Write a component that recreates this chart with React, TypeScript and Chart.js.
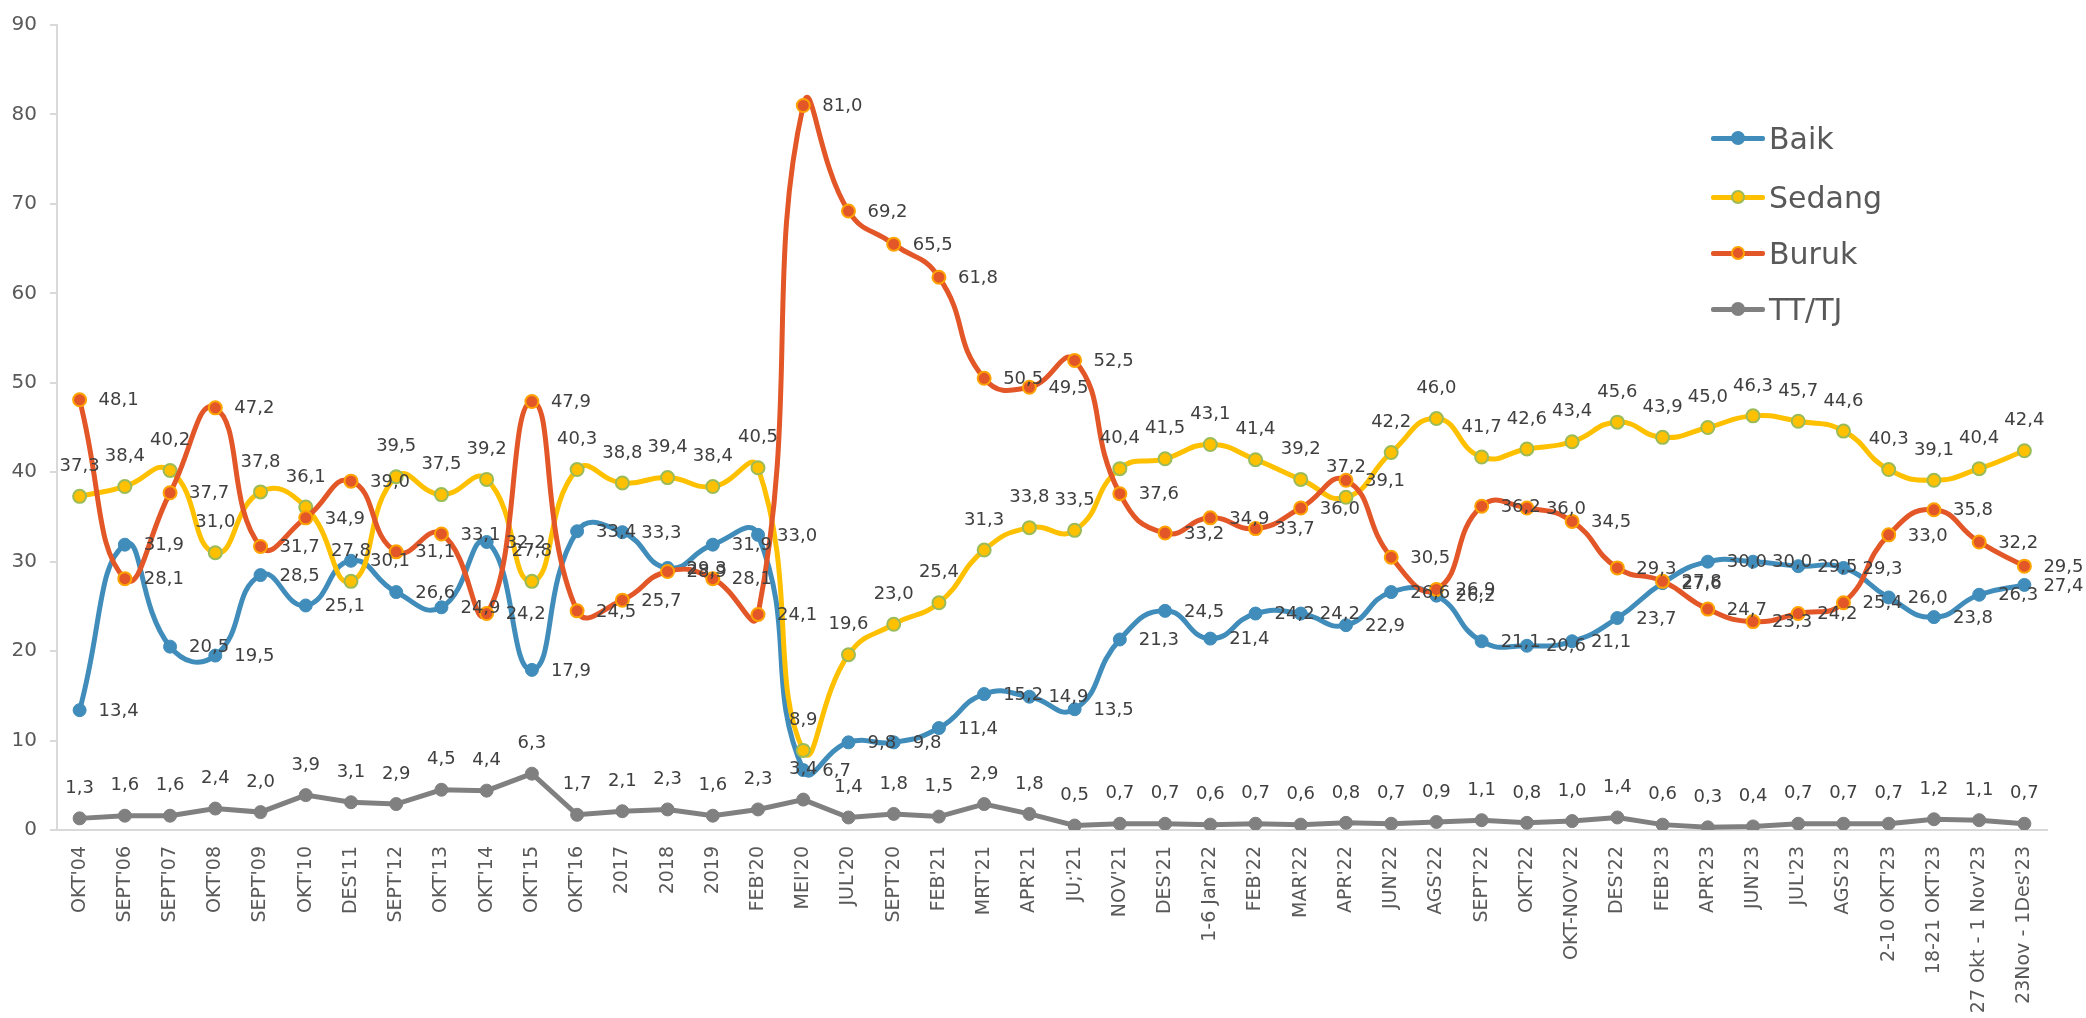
import React, { useEffect, useRef } from "react";
import { Chart, registerables } from "chart.js";

Chart.register(...registerables);

const categories = [
  "OKT'04", "SEPT'06", "SEPT'07", "OKT'08", "SEPT'09", "OKT'10", "DES'11", "SEPT'12",
  "OKT'13", "OKT'14", "OKT'15", "OKT'16", "2017", "2018", "2019", "FEB'20", "MEI'20",
  "JUL'20", "SEPT'20", "FEB'21", "MRT'21", "APR'21", "JU;'21", "NOV'21", "DES'21",
  "1-6 Jan'22", "FEB'22", "MAR'22", "APR'22", "JUN'22", "AGS'22", "SEPT'22", "OKT'22",
  "OKT-NOV'22", "DES'22", "FEB'23", "APR'23", "JUN'23", "JUL'23", "AGS'23",
  "2-10 OKT'23", "18-21 OKT'23", "27 Okt - 1 Nov'23", "23Nov - 1Des'23",
];

const baik = [
  13.4, 31.9, 20.5, 19.5, 28.5, 25.1, 30.1, 26.6, 24.9, 32.2, 17.9, 33.4, 33.3, 29.3, 31.9, 33.0,
  6.7, 9.8, 9.8, 11.4, 15.2, 14.9, 13.5, 21.3, 24.5, 21.4, 24.2, 24.2, 22.9, 26.6, 26.2, 21.1,
  20.6, 21.1, 23.7, 27.6, 30.0, 30.0, 29.5, 29.3, 26.0, 23.8, 26.3, 27.4,
];

const sedang = [
  37.3, 38.4, 40.2, 31.0, 37.8, 36.1, 27.8, 39.5, 37.5, 39.2, 27.8, 40.3, 38.8, 39.4, 38.4, 40.5,
  8.9, 19.6, 23.0, 25.4, 31.3, 33.8, 33.5, 40.4, 41.5, 43.1, 41.4, 39.2, 37.2, 42.2, 46.0, 41.7,
  42.6, 43.4, 45.6, 43.9, 45.0, 46.3, 45.7, 44.6, 40.3, 39.1, 40.4, 42.4,
];

const buruk = [
  48.1, 28.1, 37.7, 47.2, 31.7, 34.9, 39.0, 31.1, 33.1, 24.2, 47.9, 24.5, 25.7, 28.9, 28.1, 24.1,
  81.0, 69.2, 65.5, 61.8, 50.5, 49.5, 52.5, 37.6, 33.2, 34.9, 33.7, 36.0, 39.1, 30.5, 26.9, 36.2,
  36.0, 34.5, 29.3, 27.8, 24.7, 23.3, 24.2, 25.4, 33.0, 35.8, 32.2, 29.5,
];

const tttj = [
  1.3, 1.6, 1.6, 2.4, 2.0, 3.9, 3.1, 2.9, 4.5, 4.4, 6.3, 1.7, 2.1, 2.3, 1.6, 2.3,
  3.4, 1.4, 1.8, 1.5, 2.9, 1.8, 0.5, 0.7, 0.7, 0.6, 0.7, 0.6, 0.8, 0.7, 0.9, 1.1,
  0.8, 1.0, 1.4, 0.6, 0.3, 0.4, 0.7, 0.7, 0.7, 1.2, 1.1, 0.7,
];

const seriesNames = ["Baik", "Sedang", "Buruk", "TT/TJ"];
const labelPositions = ["right", "above", "right", "above"];

const Y_MIN = 0;
const Y_MAX = 90;
const Y_STEP = 10;

const FONT = "'DejaVu Sans', sans-serif";

const COLORS = {
  baik: "#408CBA",
  sedang: "#FFC000",
  sedangBorder: "#9BBB59",
  buruk: "#E25627",
  burukBorder: "#FFA300",
  tttj: "#808080",
  text: "#404040",
  axisText: "#595959",
  axis: "#D9D9D9",
};

const dataLabelPlugin = {
  id: "dataLabelPlugin",
  afterDatasetsDraw(chart: any) {
    const ctx = chart.ctx;
    ctx.save();
    ctx.font = `18px ${FONT}`;
    ctx.fillStyle = COLORS.text;
    ctx.textBaseline = "middle";
    chart.data.datasets.forEach((ds: any, i: number) => {
      const meta = chart.getDatasetMeta(i);
      const pos = labelPositions[i];
      meta.data.forEach((el: any, j: number) => {
        const v = ds.data[j] as number;
        const txt = v.toFixed(1).replace(".", ",");
        if (pos === "right") {
          ctx.textAlign = "left";
          ctx.fillText(txt, el.x + 19, el.y + 1);
        } else {
          ctx.textAlign = "center";
          ctx.fillText(txt, el.x, el.y - 30);
        }
      });
    });
    ctx.restore();
  },
};

const legendItems = [
  { name: seriesNames[0], line: COLORS.baik, fill: COLORS.baik, border: COLORS.baik, top: 138 },
  { name: seriesNames[1], line: COLORS.sedang, fill: COLORS.sedang, border: COLORS.sedangBorder, top: 197 },
  { name: seriesNames[2], line: COLORS.buruk, fill: COLORS.buruk, border: COLORS.burukBorder, top: 253 },
  { name: seriesNames[3], line: COLORS.tttj, fill: COLORS.tttj, border: COLORS.tttj, top: 309 },
];

export default function App() {
  const canvasRef = useRef<HTMLCanvasElement | null>(null);

  useEffect(() => {
    const canvas = canvasRef.current;
    if (!canvas) return;
    const chart = new Chart(canvas, {
      type: "line",
      data: {
        labels: categories,
        datasets: [
          {
            label: seriesNames[0],
            data: baik,
            borderColor: COLORS.baik,
            backgroundColor: COLORS.baik,
            borderWidth: 5,
            pointRadius: 6.5,
            pointBorderWidth: 1,
            pointBackgroundColor: COLORS.baik,
            pointBorderColor: COLORS.baik,
            tension: 0.5,
            order: 4,
          },
          {
            label: seriesNames[1],
            data: sedang,
            borderColor: COLORS.sedang,
            backgroundColor: COLORS.sedang,
            borderWidth: 5,
            pointRadius: 6.5,
            pointBorderWidth: 2,
            pointBackgroundColor: COLORS.sedang,
            pointBorderColor: COLORS.sedangBorder,
            tension: 0.5,
            order: 3,
          },
          {
            label: seriesNames[2],
            data: buruk,
            borderColor: COLORS.buruk,
            backgroundColor: COLORS.buruk,
            borderWidth: 5,
            pointRadius: 6.5,
            pointBorderWidth: 2,
            pointBackgroundColor: COLORS.buruk,
            pointBorderColor: COLORS.burukBorder,
            tension: 0.5,
            order: 2,
          },
          {
            label: seriesNames[3],
            data: tttj,
            borderColor: COLORS.tttj,
            backgroundColor: COLORS.tttj,
            borderWidth: 5,
            pointRadius: 6.5,
            pointBorderWidth: 1,
            pointBackgroundColor: COLORS.tttj,
            pointBorderColor: COLORS.tttj,
            tension: 0,
            order: 1,
          },
        ],
      },
      options: {
        animation: false,
        responsive: false,
        devicePixelRatio: 1,
        layout: { padding: { left: 0, top: 17.5, right: 39, bottom: 0 } },
        plugins: {
          legend: { display: false },
          tooltip: { enabled: false },
          title: { display: false },
        },
        scales: {
          x: {
            offset: true,
            grid: { display: false, drawTicks: false },
            border: { display: true, color: COLORS.axis, width: 2 },
            ticks: {
              autoSkip: false,
              minRotation: 90,
              maxRotation: 90,
              padding: 16,
              color: COLORS.axisText,
              font: { family: FONT, size: 19 },
            },
            afterFit(scale: any) {
              scale.height = 188;
            },
          },
          y: {
            min: Y_MIN,
            max: Y_MAX,
            grid: {
              display: true,
              drawOnChartArea: false,
              drawTicks: true,
              tickLength: 7,
              color: COLORS.axis,
              lineWidth: 2,
            },
            border: { display: true, color: COLORS.axis, width: 2 },
            ticks: {
              stepSize: Y_STEP,
              padding: 13,
              color: COLORS.axisText,
              font: { family: FONT, size: 20 },
            },
            afterFit(scale: any) {
              scale.width = 57;
            },
          },
        },
      },
      plugins: [dataLabelPlugin],
    } as any);
    return () => chart.destroy();
  }, []);

  return (
    <div
      style={{
        position: "fixed",
        left: 0,
        top: 0,
        width: 2086,
        height: 1018,
        background: "#ffffff",
        overflow: "hidden",
      }}
    >
      <canvas ref={canvasRef} width={2086} height={1018} style={{ display: "block", width: 2086, height: 1018 }} />
      {legendItems.map((it) => (
        <div
          key={it.name}
          style={{
            position: "absolute",
            left: 1711,
            top: it.top - 20,
            height: 40,
            display: "flex",
            alignItems: "center",
            fontFamily: FONT,
            fontSize: 30,
            color: COLORS.axisText,
            whiteSpace: "nowrap",
          }}
        >
          <div style={{ position: "relative", width: 54, height: 40, marginRight: 4 }}>
            <div
              style={{
                position: "absolute",
                left: 0,
                top: 17.5,
                width: 54,
                height: 5,
                background: it.line,
                borderRadius: 2,
              }}
            />
            <div
              style={{
                position: "absolute",
                left: 20,
                top: 13,
                width: 10,
                height: 10,
                borderRadius: "50%",
                background: it.fill,
                border: `2px solid ${it.border}`,
              }}
            />
          </div>
          <span>{it.name}</span>
        </div>
      ))}
    </div>
  );
}
